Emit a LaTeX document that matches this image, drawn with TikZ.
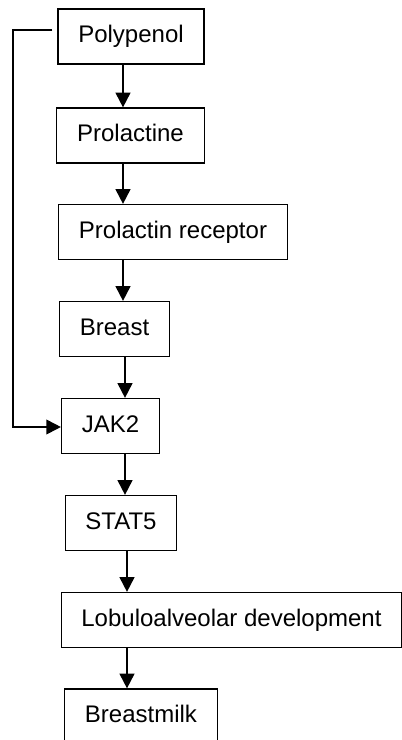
\documentclass[tikz,border=0pt]{standalone}
\usepackage{fontspec}
\setmainfont{Liberation Sans}
\usetikzlibrary{arrows.meta}
\tikzstyle{block} = [draw, line width=0.9pt, fill=white, text centered, inner xsep=15.2pt,
  minimum height=41.25pt, text height=12.9pt, text depth=3.8pt]
\tikzset{
  line/.style ={draw, line width=1.4pt, -{Triangle[length=11pt,width=11pt]}}
}

\begin{document}
\begin{tikzpicture}[x=0.75pt,y=-0.75pt,font=\fontsize{18pt}{21pt}\selectfont]
  \useasboundingbox (0,0) rectangle (401,740);
  \node[block] (poly) at (131,36.5) {Polypenol};
  \node[block] (prol) at (130.5,135.5) {Prolactine};
  \node[block] (recep) at (173,232) {Prolactin receptor};
  \node[block] (breast) at (114.5,329) {Breast};
  \node[block] (jak) at (110.5,426) {JAK2};
  \node[block] (stat) at (121,523) {STAT5};
  \node[block] (lobulo) at (231.5,620) {Lobuloalveolar development};
  \node[block] (milk) at (141,716.5) {Breastmilk};

  \coordinate (upper) at (123,0);
  \coordinate (mid) at (125,0);
  \coordinate (lower) at (127,0);
  \coordinate (fb) at (13,427);

  \begin{scope}[every path/.style=line]
    \path (poly.south -| upper) -- (prol.north -| upper);
    \path (prol.south -| upper) -- (recep.north -| upper);
    \path (recep.south -| upper) -- (breast.north -| upper);
    \path (breast.south -| mid) -- (jak.north -| mid);
    \path (jak.south -| mid) -- (stat.north -| mid);
    \path (stat.south -| lower) -- (lobulo.north -| lower);
    \path (lobulo.south -| lower) -- (milk.north -| lower);
    \path ([xshift=-3.75pt,yshift=4.9pt]poly.west) -| (fb) -- (jak.west |- fb);
  \end{scope}

\end{tikzpicture}
\end{document}
